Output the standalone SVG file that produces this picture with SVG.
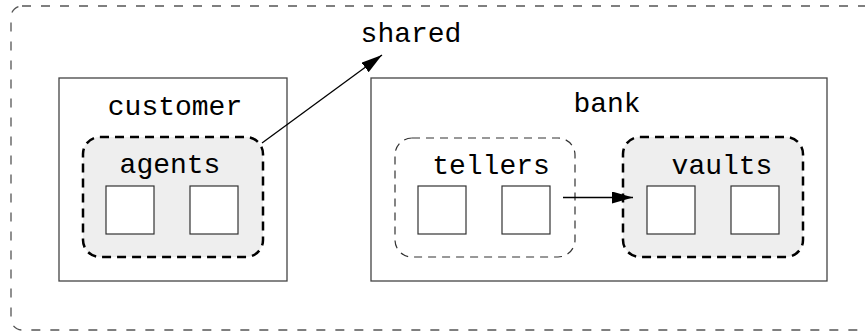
<svg xmlns="http://www.w3.org/2000/svg" width="865" height="333" viewBox="0 0 865 333">
  <style>
    .label { font-family: "Liberation Mono", "Courier New", monospace; font-size: 28px; fill: #000; text-anchor: middle; }
    .box { fill: #fff; stroke: #444; stroke-width: 1.3; }
    .cell { fill: #fff; stroke: #333; stroke-width: 1.2; }
    .outer { fill: none; stroke: #555; stroke-width: 1.3; stroke-dasharray: 9 10; }
    .group-thick { fill: #eeeeee; stroke: #000; stroke-width: 2.5; stroke-dasharray: 9 6; }
    .group-thin { fill: #fff; stroke: #333; stroke-width: 1.2; stroke-dasharray: 8 6; }
    .edge { fill: none; stroke: #000; stroke-width: 1.3; }
  </style>
  <defs>
    <marker id="arrow" markerUnits="userSpaceOnUse" markerWidth="22" markerHeight="12" refX="21" refY="6" orient="auto">
      <path d="M0,0 L21,6 L0,12 Z" fill="#000"/>
    </marker>
  </defs>

  <rect width="865" height="333" fill="#fff"/>

  <!-- outer scope -->
  <rect class="outer" x="11" y="6" width="870" height="324" rx="11" ry="11"/>

  <g id="shared">
    <text class="label" x="411" y="42">shared</text>
  </g>

  <g id="customer">
    <rect class="box" x="59" y="78" width="228" height="203"/>
    <text class="label" x="175" y="115">customer</text>
  </g>

  <g id="agents">
    <rect class="group-thick" x="83" y="137" width="180" height="120" rx="17" ry="17"/>
    <text class="label" x="170" y="173">agents</text>
    <rect class="cell" x="106" y="186" width="48" height="48"/>
    <rect class="cell" x="190" y="186" width="48" height="48"/>
  </g>

  <g id="bank">
    <rect class="box" x="371" y="78" width="456" height="203"/>
    <text class="label" x="607" y="112">bank</text>
  </g>

  <g id="tellers">
    <rect class="group-thin" x="395" y="138" width="180" height="119" rx="17" ry="17"/>
    <text class="label" x="491" y="174">tellers</text>
    <rect class="cell" x="418" y="186" width="48" height="48"/>
    <rect class="cell" x="502" y="186" width="48" height="48"/>
  </g>

  <g id="vaults">
    <rect class="group-thick" x="623" y="137" width="180" height="120" rx="17" ry="17"/>
    <text class="label" x="722" y="174">vaults</text>
    <rect class="cell" x="647" y="186" width="48" height="48"/>
    <rect class="cell" x="731" y="186" width="48" height="48"/>
  </g>

  <g id="connectors">
    <line class="edge" x1="262" y1="143" x2="382" y2="55" marker-end="url(#arrow)"/>
    <line class="edge" x1="563" y1="197.5" x2="633" y2="197.5" marker-end="url(#arrow)"/>
  </g>
</svg>
